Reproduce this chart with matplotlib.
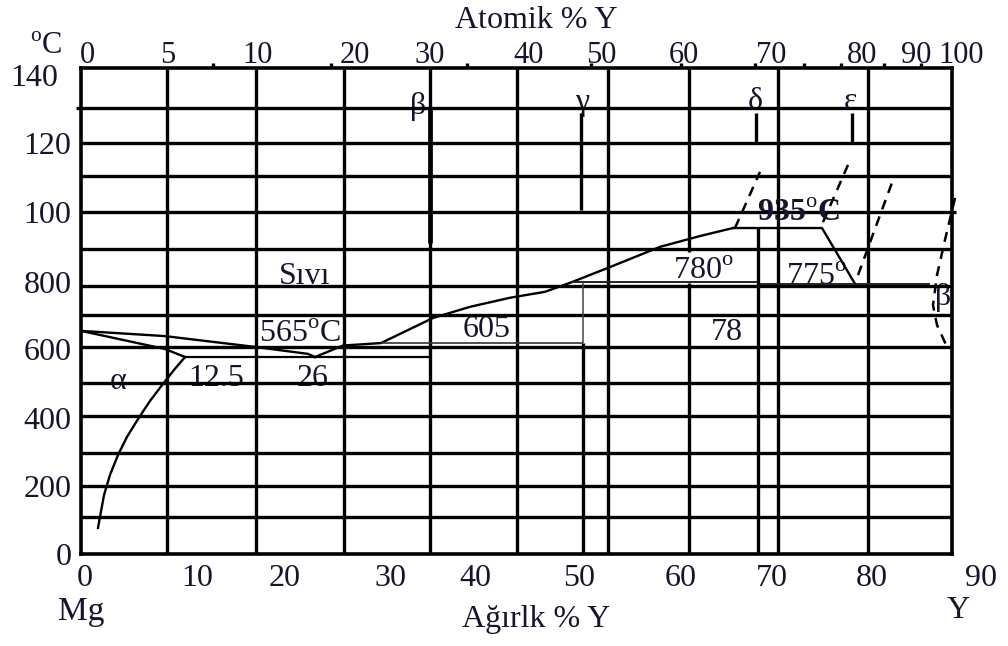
import matplotlib
matplotlib.use("Agg")
import matplotlib.pyplot as plt
import matplotlib.transforms as mtransforms

plt.rcParams['font.family'] = ['Liberation Serif', 'DejaVu Serif']
plt.rcParams['mathtext.fontset'] = 'custom'
plt.rcParams['mathtext.rm'] = 'Liberation Serif'

INK = '#15152e'
LINE = 'black'

# ---- axis labelling -------------------------------------------------------
wt_tick_pos = [0.4, 11.6, 20.4, 30.9, 39.4, 49.8, 60.0, 69.1, 79.1, 90.0]
wt_tick_labels = ['0', '10', '20', '30', '40', '50', '60', '70', '80', '90']

at_tick_pos = [0.6, 8.7, 17.7, 27.4, 34.9, 44.8, 52.0, 60.3, 69.0, 78.1, 83.5, 88.0]
at_tick_labels = ['0', '5', '10', '20', '30', '40', '50', '60', '70', '80', '90', '100']
at_minor_pos = [13.2, 25.0, 38.6, 51.0, 60.0, 67.4, 72.3, 76.0, 80.3, 84.0]

temp_tick_pos = [-9, 186, 379, 579, 769, 970, 1170, 1365]
temp_tick_labels = ['0', '200', '400', '600', '800', '100', '120', '140']

# ---- background grid ------------------------------------------------------
grid_wt = [8.6, 17.5, 26.3, 34.9, 43.6, 52.7, 69.7, 78.7]
grid_wt_broken = 60.8
grid_wt_gap = (777, 866)
grid_temp = [1280, 1180, 1085, 980, 875, 770, 685, 595, 490, 395, 290, 195, 105]

# ---- phase boundaries (wt % Y, degC) -------------------------------------
mg_liquidus_wt = [0.0, 8.4, 17.4, 22.7, 23.4]
mg_liquidus_t = [640, 625, 594, 574, 565]

mg_solidus_wt = [0.0, 8.4, 10.4]
mg_solidus_t = [640, 588, 565]

solvus_wt = [10.4, 9.3, 8.2, 6.9, 5.7, 4.6, 3.7, 2.9, 2.3, 1.7]
solvus_t = [565, 528, 488, 439, 387, 336, 284, 227, 169, 75]

liquidus_wt = [23.4, 26.2, 30.0, 35.2, 38.9, 42.9, 46.4, 49.1, 52.9, 57.9, 61.9, 65.2]
liquidus_t = [565, 598, 605, 677, 709, 735, 752, 780, 823, 881, 912, 935]

plateau_wt = [65.2, 74.1, 77.4]
plateau_t = [935, 935, 775]

eutectic_t = 565
eutectic_span = (10.4, 34.9)
peritectic_t = 605
peritectic_span = (30.0, 50.2)
iso780_t = 780
iso780_span = (49.1, 67.7)
iso775_t = 775
iso775_span = (67.7, 84.9)

# compound lines: (wt, t_low, t_high)
beta_line = (34.9, 892, 1280)
gamma_line = (50.0, 987, 1265)
delta_line = (67.5, 1179, 1265)
eps_line = (77.1, 1179, 1265)
wall50_wt = 50.2
wall68_wt = 67.7

# dashed (uncertain) boundaries
dash1_wt, dash1_t = [65.4, 67.9], [935, 1096]
dash2_wt, dash2_t = [74.2, 76.7], [952, 1116]
dash3_wt, dash3_t = [77.7, 81.2], [800, 1073]
dash4_wt = [87.4, 86.4, 85.6, 85.2, 85.6, 86.5]
dash4_t = [1021, 901, 800, 714, 657, 600]

# region / point labels: (text, wt, degC)
labels = [
    ('α', 3.7, 496),
    ('12.5', 13.5, 502),
    ('26', 23.2, 502),
    (r'565$^{\mathrm{o}}$C', 21.9, 630),
    ('Sıvı', 22.4, 797),
    ('605', 40.6, 645),
    (r'780$^{\mathrm{o}}$', 62.2, 811),
    ('78', 64.6, 636),
    (r'775$^{\mathrm{o}}$', 73.5, 794),
    ('β', 86.2, 737),
    ('β', 33.7, 1285),
    ('γ', 50.1, 1294),
    ('δ', 67.4, 1297),
    ('ε', 76.9, 1297),
]

XMAX = 87.1
YMAX = 1394

fig = plt.figure(figsize=(10.08, 6.46), dpi=100)
ax = fig.add_axes([81 / 1008, (646 - 554) / 646, 871 / 1008, 486 / 646])
ax.set_xlim(0, XMAX)
ax.set_ylim(0, YMAX)
ax.set_xticks([])
ax.set_yticks([])
for s in ax.spines.values():
    s.set_linewidth(2.6)
    s.set_color(LINE)

GW = 2.4
# grid
ax.vlines(grid_wt, 0, YMAX, color=LINE, lw=GW, zorder=1)
ax.vlines(grid_wt_broken, 0, grid_wt_gap[0], color=LINE, lw=GW, zorder=1)
ax.vlines(grid_wt_broken, grid_wt_gap[1], YMAX, color=LINE, lw=GW, zorder=1)
for t in grid_temp:
    x0 = -0.5 if t == grid_temp[0] else 0
    x1 = XMAX + 0.4 if t == 980 else XMAX
    ax.hlines(t, x0, x1, color=LINE, lw=GW, zorder=1.5, clip_on=False)

# top ticks of the atomic scale
ax.vlines(at_minor_pos, YMAX, YMAX + 14, color=LINE, lw=GW, clip_on=False)

PW = 1.7
ax.plot(mg_liquidus_wt, mg_liquidus_t, color=LINE, lw=PW, zorder=2)
ax.plot(mg_solidus_wt, mg_solidus_t, color=LINE, lw=PW, zorder=2)
ax.plot(solvus_wt, solvus_t, color=LINE, lw=PW, zorder=2)
ax.plot(liquidus_wt, liquidus_t, color=LINE, lw=PW, zorder=2)
ax.plot(plateau_wt, plateau_t, color=LINE, lw=PW, zorder=2)

ax.hlines(eutectic_t, *eutectic_span, color=LINE, lw=1.6, zorder=2)
ax.hlines(peritectic_t, *peritectic_span, color='#333333', lw=1.2, zorder=2)
ax.hlines(iso780_t, *iso780_span, color='#222222', lw=1.4, zorder=2)
ax.hlines(iso775_t, *iso775_span, color='#222222', lw=1.4, zorder=2)

ax.vlines(wall50_wt, peritectic_t, iso780_t, color='#444444', lw=1.1, zorder=2)
ax.vlines(wall50_wt, 0, peritectic_t, color=LINE, lw=GW, zorder=2)
ax.vlines(wall68_wt, 0, 935, color=LINE, lw=GW, zorder=2)
for (x, lo, hi), w in zip([beta_line, gamma_line, delta_line, eps_line],
                          [3.4, 2.4, 2.4, 2.4]):
    ax.vlines(x, lo, hi, color=LINE, lw=w, zorder=2)

DS = (0, (4, 3))
for xs, ts in [(dash1_wt, dash1_t), (dash2_wt, dash2_t),
               (dash3_wt, dash3_t), (dash4_wt, dash4_t)]:
    ax.plot(xs, ts, color=LINE, lw=1.8, ls=DS, zorder=2, clip_on=False)

FS = 23
for txt, x, t in labels:
    ax.text(x, t, txt, fontsize=FS, color=INK, ha='center', va='center', zorder=1.2)
ax.text(71.7, 978, r'935$^{\mathrm{o}}$C', fontsize=FS, color=INK,
        ha='center', va='center', fontweight='bold', zorder=3)

# tick labels
bottom = mtransforms.blended_transform_factory(ax.transData, ax.transAxes)
for x, lab in zip(wt_tick_pos, wt_tick_labels):
    ax.text(x, -0.05, lab, transform=bottom, fontsize=FS, color=INK,
            ha='center', va='center', clip_on=False)
for x, lab in zip(at_tick_pos, at_tick_labels):
    ax.text(x, 1.026, lab, transform=bottom, fontsize=22, color=INK,
            ha='center', va='center', clip_on=False)
left = mtransforms.blended_transform_factory(ax.transAxes, ax.transData)
for t, lab in zip(temp_tick_pos, temp_tick_labels):
    xr = -0.026 if lab == temp_tick_labels[-1] else -0.011
    ax.text(xr, t, lab, transform=left, fontsize=FS, color=INK,
            ha='right', va='center', clip_on=False)

fig.text(536 / 1008, 1 - 21 / 646, 'Atomik % Y', fontsize=FS, color=INK,
         ha='center', va='center')
fig.text(46 / 1008, 1 - 47 / 646, r'$^{\mathrm{o}}$C', fontsize=22, color=INK,
         ha='center', va='center')
fig.text(81 / 1008, 1 - 612 / 646, 'Mg', fontsize=24, color=INK,
         ha='center', va='center')
fig.text(536 / 1008, 1 - 620 / 646, 'Ağırlk % Y', fontsize=FS, color=INK,
         ha='center', va='center')
fig.text(958 / 1008, 1 - 610 / 646, 'Y', fontsize=FS, color=INK,
         ha='center', va='center')

fig.savefig('out.png', dpi=100)
